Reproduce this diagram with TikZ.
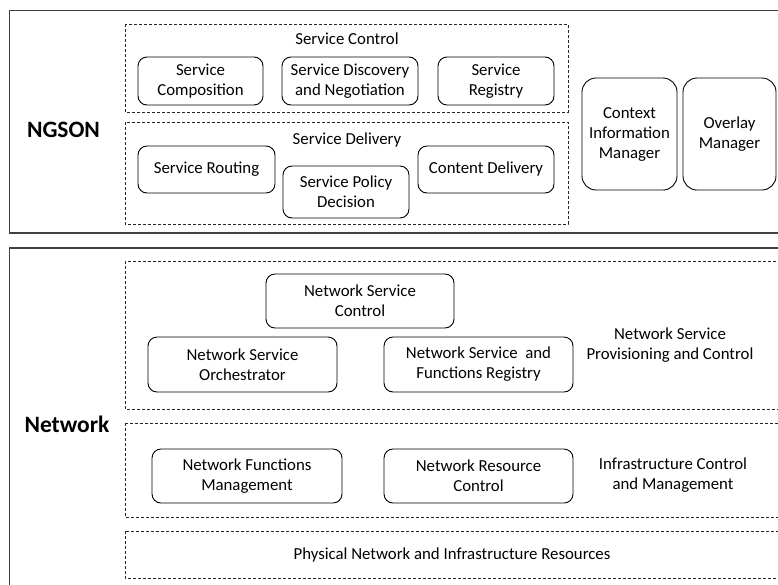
\documentclass[tikz,border=0pt]{standalone}
\usepackage{fontspec}
\setmainfont{Carlito}
\usepackage{tikz}

\begin{document}
\begin{tikzpicture}[
            x=1pt, y=-1pt,
            font=\fontsize{16.8}{20}\selectfont,
            cadre/.style={draw=black!75, line width=1.3pt}, cadre/.default=,
            tiret/.style={draw=black!85, line width=0.8pt, dash pattern=on 3pt off 2pt}, tiret/.default=,
            boite/.style={draw=black, line width=0.9pt, rounded corners=9pt, align=center, inner sep=0pt}, boite/.default=,
            grande/.style={boite, rounded corners=14pt, minimum width=94pt, minimum height=112pt}, grande/.default=,
            titre/.style={font=\fontsize{23.5}{28}\selectfont\bfseries}, titre/.default=,
            etiq/.style={align=center, inner sep=0pt}, etiq/.default=,
        ]
        \useasboundingbox (0,0) rectangle (778,584);
        \clip (0,0) rectangle (778,584);
        % NGSON
        \draw[cadre] (9.5,10.5) rectangle (800,233);
        \node[titre] (ngson) at (63.5,130) {NGSON};
        \draw[tiret] (125,24) rectangle (568,112);
        \node[etiq] (sctrl) at (347,39) {Service Control};
        \node[boite, minimum width=125pt, minimum height=48pt] (compo) at (200.5,81) {Service\\Composition};
        \node[boite, minimum width=136pt, minimum height=48pt] (decouv) at (350,81) {Service Discovery\\and Negotiation};
        \node[boite, minimum width=116pt, minimum height=48pt] (regis) at (496,81) {Service\\Registry};
        \draw[tiret] (125,122) rectangle (568,224);
        \node[etiq] (sdeliv) at (347,140) {Service Delivery};
        \node[boite, minimum width=137pt, minimum height=47pt] (routage) at (206.5,169.5) {Service Routing};
        \node[boite, minimum width=126pt, minimum height=52pt] (politique) at (346,192) {Service Policy\\Decision};
        \node[boite, minimum width=136pt, minimum height=47pt] (contenu) at (486,169.5) {Content Delivery};
        \node[grande, minimum width=95pt] (contexte) at (629.5,134) {Context\\Information\\Manager};
        \node[grande, minimum width=93pt] (overlay) at (729.5,134) {Overlay\\Manager};
        % Network
        \draw[cadre] (9.5,248) rectangle (800,600);
        \node[titre] (reseau) at (67,424) {Network};
        \draw[tiret] (125,261) rectangle (800,409);
        \node[boite, minimum width=188pt, minimum height=54pt] (nsc) at (360,301) {Network Service\\Control};
        \node[boite, minimum width=189pt, minimum height=55pt] (orch) at (242.5,364.5) {Network Service\\Orchestrator};
        \node[boite, minimum width=189pt, minimum height=55pt] (nsreg) at (478.5,364.5) {Network Service~ and\\Functions Registry};
        \node[etiq] (nspc) at (670,345) {Network Service\\Provisioning and Control};
        \draw[tiret] (125,423) rectangle (800,517);
        \node[boite, minimum width=190pt, minimum height=54pt] (nfm) at (247,476) {Network Functions\\Management};
        \node[boite, minimum width=189pt, minimum height=54pt] (nrc) at (478.5,476) {Network Resource\\Control};
        \node[etiq] (icm) at (673,475) {Infrastructure Control\\and Management};
        \draw[tiret] (125,531) rectangle (800,578);
        \node[etiq] (phys) at (452,555) {Physical Network and Infrastructure Resources};
    \end{tikzpicture}
\end{document}
